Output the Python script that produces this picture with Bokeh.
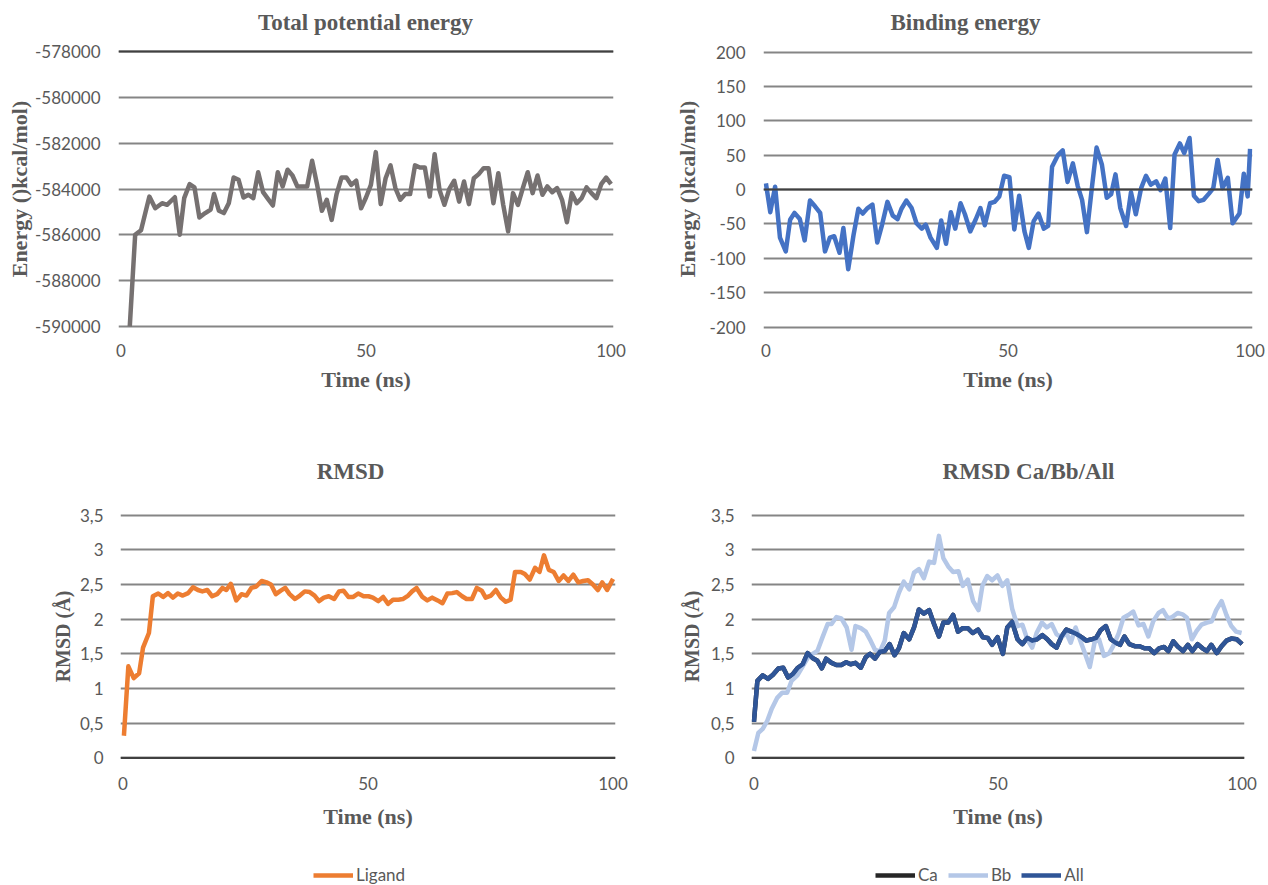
from bokeh.plotting import figure
from bokeh.layouts import row, column
from bokeh.models import Range1d, FixedTicker, Span, Legend, LegendItem, Label
from bokeh.embed import file_html
from bokeh.resources import INLINE

# ---------------- data ----------------
x_ticks = [0, 50, 100]
x_tick_labels = ["0", "50", "100"]

energy_ticks = [-590000, -588000, -586000, -584000, -582000, -580000, -578000]
energy_tick_labels = ["-590000", "-588000", "-586000", "-584000", "-582000", "-580000", "-578000"]

binding_ticks = [-200, -150, -100, -50, 0, 50, 100, 150, 200]
binding_tick_labels = ["-200", "-150", "-100", "-50", "0", "50", "100", "150", "200"]

rmsd_ticks = [0, 0.5, 1, 1.5, 2, 2.5, 3, 3.5]
rmsd_tick_labels = ["0", "0,5", "1", "1,5", "2", "2,5", "3", "3,5"]

energy_time = [1.8, 2.9, 4.1, 5.8, 7, 8.4, 9.4, 11, 12, 12.9, 14, 15, 16, 17.2, 18.3, 19,
               20, 21, 22, 23, 24, 25, 26, 27, 28, 29, 30, 31, 32, 33, 34, 35, 36, 37, 38, 39,
               40, 41, 42, 43, 44, 45, 46, 47, 48, 49, 50, 51, 52, 53, 54, 55, 56, 57, 58, 59,
               60, 61, 62, 63, 64, 65, 66, 67, 68, 69, 70, 71, 72, 73, 74, 75, 76, 77, 78, 79,
               80, 81, 82, 83, 84, 85, 86, 87, 88, 89, 90, 91, 92, 93, 94, 95, 96, 97, 98, 99, 100]
energy_total = [-590000, -586000, -585800, -584330, -584840, -584620, -584690, -584360, -586000,
                -584400, -583790, -583930, -585240, -585050, -584900, -584220,
                -584950, -585050, -584620, -583500, -583600, -584370, -584250, -584400, -583270,
                -584140, -584430, -584720, -583270, -583890, -583160, -583410, -583890, -583890,
                -583890, -582770, -583790, -584950, -584470, -585350, -584220, -583500, -583500,
                -583820, -583640, -584840, -584370, -583820, -582390, -584660, -583530, -582970,
                -583960, -584470, -584220, -584220, -582970, -583060, -583060, -584330, -582480,
                -584040, -584690, -584000, -583640, -584550, -583670, -584660, -583530, -583350,
                -583090, -583090, -584620, -583310, -584690, -585850, -584180, -584690, -583960,
                -583270, -584180, -583410, -584250, -583890, -584140, -583960, -584470, -585450,
                -584180, -584620, -584400, -583930, -584180, -584400, -583790, -583500, -583790]

binding_time = [0, 0.9, 1.9, 2.9, 4.1, 5, 5.9, 7, 8, 9.1, 10.1, 11.2, 12.2, 13.2, 14.1, 15.2, 16,
                17, 18.1, 19.1, 20, 21, 22, 23, 24, 25.1, 26.2, 27.2, 28, 29, 30.1, 31.1, 32.2,
                33, 34, 35.3, 36.2, 37.2, 38.2, 39.1, 40.2, 41.1, 42.2, 43.3, 44.3, 45.2, 46.3,
                47.2, 48.2, 49.2, 50.3, 51.3, 52.3, 53.4, 54.3, 55.3, 56.3, 57.4, 58.3, 59.1,
                60.3, 61.3, 62.3, 63.4, 64.4, 65.3, 66.3, 67.3, 68.3, 69.4, 70.4, 71.3, 72.2,
                73.2, 74.4, 75.4, 76.4, 77.5, 78.5, 79.5, 80.6, 81.5, 82.5, 83.5, 84.4, 85.5,
                86.4, 87.5, 88.4, 89.4, 90.4, 91.5, 92.4, 93.3, 94.3, 95.4, 96.4, 97.8, 98.7,
                99.5, 100]
binding_energy = [9, -33, 4, -70, -90, -44, -34, -43, -74, -16, -24, -34, -90, -70, -68, -92, -56,
                  -116, -66, -28, -35, -27, -22, -77, -51, -18, -38, -43, -28, -16, -27, -49, -57,
                  -51, -70, -85, -45, -79, -33, -57, -20, -36, -61, -44, -27, -52, -20,
                  -18, -10, 20, 18, -58, -9, -61, -85, -46, -35, -57, -53, 33,
                  50, 57, 11, 38, 5, -15, -62, 1, 61, 36, -12, -7, 22,
                  -27, -53, -4, -36, 2, 20, 7, 12, -1, 16, -56, 51, 67,
                  53, 75, -9, -17, -15, -6, 2, 43, 2, 17, -49, -35, 23,
                  -10, 59]

ligand_time = [0.2, 1.1, 2.2, 3.3, 4.1, 5.3, 6.1, 7.2, 8.2, 9.2, 10.2, 11.2, 12.2, 13.3, 14.3,
               15.3, 16.2, 17.2, 18.2, 19.2, 20.3, 21.1, 22, 23.1, 24.2, 25.2, 26.2, 27.2, 28.3,
               29.3, 30.2, 31.2, 32.2, 33.1, 34, 35.1, 36.1, 37.1, 38.1, 39.1, 40, 41, 42, 43.1,
               44.1, 45, 46, 47, 48, 49.1, 50.1, 51, 52.1, 53.1, 54.1, 55.1, 56.2, 57.1, 58.2,
               59, 59.9, 61.1, 62.1, 63.1, 64.2, 65.2, 66.2, 67.2, 68.1, 69.2, 70.1, 71.2, 72.2,
               73.2, 74, 75.1, 76.1, 77.1, 78.1, 79.1, 80, 81.2, 82, 83, 84.1, 85, 85.9, 86.9,
               87.9, 88.9, 89.9, 90.9, 91.9, 92.9, 93.9, 94.9, 95.9, 96.9, 97.8, 98.8, 100]
ligand_rmsd = [0.32, 1.32, 1.15, 1.22, 1.59, 1.80, 2.33, 2.37, 2.32, 2.375, 2.31, 2.37, 2.34,
               2.375, 2.46, 2.42, 2.40, 2.42, 2.33, 2.36, 2.45, 2.42, 2.51, 2.27, 2.36, 2.34,
               2.45, 2.47, 2.55, 2.53, 2.50, 2.36, 2.41, 2.45, 2.36, 2.29, 2.34, 2.40, 2.39,
               2.34, 2.26, 2.31, 2.33, 2.29, 2.40, 2.41, 2.32, 2.32, 2.37, 2.33, 2.33, 2.31,
               2.26, 2.32, 2.22, 2.28, 2.28, 2.29, 2.34, 2.40, 2.45, 2.32, 2.27, 2.31, 2.27,
               2.23, 2.37, 2.375, 2.39, 2.33, 2.29, 2.29, 2.45, 2.41, 2.31, 2.34, 2.42, 2.31,
               2.25, 2.28, 2.68, 2.68, 2.65, 2.57, 2.74, 2.68, 2.92, 2.71, 2.68, 2.55, 2.63,
               2.55, 2.64, 2.53, 2.55, 2.56, 2.50, 2.42, 2.53, 2.42, 2.58]

all_time = [0, 0.7, 1.8, 2.9, 3.9, 5, 6, 7, 8, 9, 10, 11, 12, 13, 13.9, 14.8, 15.9, 16.9, 17.9,
            18.9, 19.8, 20.8, 21.9, 22.9, 23.8, 24.8, 25.8, 26.8, 27.8, 28.8, 29.7, 30.7, 31.8,
            32.8, 33.8, 34.8, 35.9, 36.9, 37.9, 38.8, 39.8, 40.8, 41.8, 42.8, 43.8, 44.8, 45.9,
            46.9, 47.9, 48.8, 49.9, 51, 51.9, 52.9, 54, 55, 56, 57, 58, 59.1, 60.1, 61, 62, 63,
            64, 65, 66, 67.1, 68.1, 69.2, 70.1, 71, 72.1, 73.1, 74.1, 75, 75.9, 76.9, 78, 79, 80,
            81, 82, 83, 84, 84.9, 85.9, 86.9, 87.9, 88.9, 89.8, 90.9, 91.9, 92.8, 93.7, 94.8,
            95.8, 96.8, 97.8, 98.9, 100]
all_rmsd = [0.52, 1.11, 1.19, 1.14, 1.20, 1.29, 1.30, 1.16, 1.21, 1.30, 1.35, 1.51, 1.44, 1.40,
            1.29, 1.43, 1.37, 1.34, 1.34, 1.38, 1.35, 1.37, 1.30, 1.45, 1.50, 1.43, 1.53, 1.54,
            1.64, 1.48, 1.58, 1.80, 1.71, 1.88, 2.14, 2.08, 2.13, 1.93, 1.75, 1.95, 1.95, 2.06,
            1.82, 1.87, 1.87, 1.80, 1.85, 1.74, 1.73, 1.63, 1.74, 1.50, 1.88, 1.96, 1.71, 1.64,
            1.73, 1.69, 1.71, 1.77, 1.71, 1.64, 1.59, 1.75, 1.85, 1.82, 1.79, 1.74, 1.69, 1.71,
            1.73, 1.84, 1.90, 1.71, 1.66, 1.63, 1.75, 1.64, 1.61, 1.61, 1.58, 1.58, 1.51, 1.58,
            1.60, 1.54, 1.68, 1.60, 1.54, 1.63, 1.54, 1.64, 1.58, 1.54, 1.63, 1.51, 1.61, 1.69,
            1.72, 1.71, 1.64]
ca_time = all_time
ca_rmsd = all_rmsd

bb_time = [0, 0.9, 1.8, 2.7, 3.6, 4.8, 5.8, 6.8, 7.7, 8.9, 9.9, 11, 12, 13, 14, 15.1, 15.9, 16.9,
           17.9, 19, 20, 20.8, 21.9, 22.9, 23.9, 24.8, 25.8, 26.8, 27.7, 28.7, 29.7, 30.7, 31.8,
           32.8, 33.8, 34.8, 35.9, 36.9, 37.9, 38.8, 39.8, 40.8, 41.9, 42.8, 43.8, 44.9, 46,
           46.8, 47.8, 48.8, 49.9, 50.9, 51.9, 52.9, 54, 55, 56, 57, 57.9, 59, 60, 61, 62, 63,
           64, 64.9, 65.9, 66.9, 67.8, 68.8, 69.8, 70.7, 71.7, 72.8, 73.6, 74.7, 75.7, 76.7,
           77.7, 78.8, 79.8, 80.8, 81.8, 82.9, 83.8, 84.8, 85.7, 86.8, 87.8, 88.7, 89.7, 90.7,
           91.7, 92.8, 93.8, 94.7, 95.8, 96.8, 97.8, 98.8, 99.9]
bb_rmsd = [0.10, 0.36, 0.42, 0.53, 0.70, 0.87, 0.94, 0.94, 1.11, 1.19, 1.31, 1.44, 1.50, 1.54,
           1.73, 1.93, 1.93, 2.03, 2.01, 1.88, 1.56, 1.90, 1.87, 1.82, 1.69, 1.56, 1.53, 1.69,
           2.09, 2.17, 2.38, 2.54, 2.43, 2.67, 2.72, 2.59, 2.83, 2.81, 3.20, 2.88, 2.76, 2.68,
           2.69, 2.48, 2.57, 2.26, 2.13, 2.48, 2.62, 2.56, 2.63, 2.48, 2.56, 2.15, 1.90, 1.92,
           1.71, 1.59, 1.80, 1.95, 1.88, 1.93, 1.78, 1.74, 1.80, 1.66, 1.88, 1.68, 1.51, 1.31,
           1.67, 1.71, 1.47, 1.51, 1.61, 1.79, 2.02, 2.06, 2.11, 1.91, 1.93, 1.75, 1.97, 2.09,
           2.13, 2.01, 2.03, 2.09, 2.07, 2.02, 1.71, 1.83, 1.92, 1.95, 1.97, 2.13, 2.26, 2.06,
           1.90, 1.82, 1.80]

# ---------------- style ----------------
TEXT = "#595959"
GRID = "#858585"
AXIS = "#404040"
SERIF = "Liberation Serif"
SANS = "Lato"
LW = 4.5
COL_W = 634


def strip(h):
    s = figure(width=COL_W, height=h, x_range=Range1d(0, COL_W), y_range=Range1d(h, 0),
               x_axis_location=None, y_axis_location=None, toolbar_location=None,
               output_backend="svg", min_border=0)
    s.outline_line_color = None
    s.grid.visible = False
    return s


def title_strip(h, entries):
    s = strip(h)
    for text, x, y in entries:
        s.add_layout(Label(x=x, y=y, text=text, text_align="center", text_baseline="middle",
                           text_font=SERIF, text_font_style="bold", text_font_size="23px",
                           text_color=TEXT))
    return s


def make_fig(h, xr, yr, borders, yticks, ylabels, ylabel, ylabel_size,
             xs1=12, xs2=7, ys1=18, ys2=4, axis_at=None):
    bl, br, bt, bb = borders
    p = figure(width=COL_W, height=h, x_range=Range1d(*xr), y_range=Range1d(*yr),
               output_backend="svg", toolbar_location=None,
               min_border_left=bl, min_border_right=br, min_border_top=bt, min_border_bottom=bb)
    p.outline_line_color = None
    p.xgrid.visible = False
    p.ygrid.ticker = FixedTicker(ticks=yticks)
    p.ygrid.grid_line_color = GRID
    p.ygrid.grid_line_width = 2
    for ax in (p.xaxis[0], p.yaxis[0]):
        ax.axis_line_color = None
        ax.major_tick_line_color = None
        ax.minor_tick_line_color = None
        ax.major_tick_out = 0
        ax.major_tick_in = 0
        ax.major_label_text_font = SANS
        ax.major_label_text_font_size = "17px"
        ax.major_label_text_color = TEXT
        ax.axis_label_text_font = SERIF
        ax.axis_label_text_font_style = "bold"
        ax.axis_label_text_color = TEXT
    p.xaxis.ticker = FixedTicker(ticks=x_ticks)
    p.xaxis.major_label_overrides = dict(zip(x_ticks, x_tick_labels))
    p.yaxis.ticker = FixedTicker(ticks=yticks)
    p.yaxis.major_label_overrides = dict(zip(yticks, ylabels))
    p.xaxis.axis_label = "Time (ns)"
    p.xaxis.axis_label_text_font_size = "22px"
    p.yaxis.axis_label = ylabel
    p.yaxis.axis_label_text_font_size = ylabel_size
    p.xaxis.major_label_standoff = xs1
    p.xaxis.axis_label_standoff = xs2
    p.yaxis.major_label_standoff = ys1
    p.yaxis.axis_label_standoff = ys2
    if axis_at is not None:
        p.add_layout(Span(location=axis_at, dimension="width", line_color=AXIS, line_width=2))
    return p


def legend_strip(entries, x):
    # legend-only strip; the proxy renderers carry the series data but stay hidden
    s = strip(35)
    items = []
    for label, color, xs, ys in entries:
        r = s.line(xs, ys, line_color=color, line_width=LW, visible=False)
        items.append(LegendItem(label=label, renderers=[r]))
    s.add_layout(Legend(items=items, location=(x, 0), orientation="horizontal",
                        label_text_font=SANS, label_text_font_size="17px", label_text_color=TEXT,
                        glyph_width=40, glyph_height=20, label_standoff=3,
                        padding=0, margin=0, spacing=10, border_line_color=None,
                        background_fill_alpha=0, inactive_fill_alpha=0))
    return s


# titles (top row)
t_top_l = title_strip(40, [("Total potential energy", 365, 22)])
t_top_r = title_strip(40, [("Binding energy", 331, 22)])

# top-left: total potential energy
f1 = make_fig(400, (-0.5, 100.5), (-590262, -577738), (118, 21, 5, 108),
              energy_ticks, energy_tick_labels, "Energy ()kcal/mol)", "22px",
              xs1=11, xs2=7, ys1=18, ys2=0, axis_at=-578000)
f1.line(energy_time, energy_total, line_color="#767171", line_width=LW, line_join="round")

# top-right: binding energy
f2 = make_fig(400, (-0.5, 100.5), (-208, 209.5), (129, 16, 5, 108),
              binding_ticks, binding_tick_labels, "Energy ()kcal/mol)", "22px",
              xs1=11, xs2=7, ys1=18, ys2=7, axis_at=0)
f2.line(binding_time, binding_energy, line_color="#4472C4", line_width=LW, line_join="round")

# titles (bottom row)
t_bot_l = title_strip(60, [("RMSD", 350, 31)])
t_bot_r = title_strip(60, [("RMSD Ca/Bb/All", 394, 31)])

# bottom-left: ligand RMSD
f3 = make_fig(350, (-0.5, 100.5), (-0.08, 3.58), (120, 19, 9, 87),
              rmsd_ticks, rmsd_tick_labels, "RMSD (Å)", "20px",
              xs1=13, xs2=11, ys1=17, ys2=3, axis_at=0)
f3.line(ligand_time, ligand_rmsd, line_color="#ED7D31", line_width=LW, line_join="round")

# bottom-right: Ca / Bb / All
f4 = make_fig(350, (-0.5, 100.5), (-0.08, 3.58), (117, 24, 9, 87),
              rmsd_ticks, rmsd_tick_labels, "RMSD (Å)", "20px",
              xs1=13, xs2=11, ys1=17, ys2=5, axis_at=0)
f4.line(ca_time, ca_rmsd, line_color="#262626", line_width=LW, line_join="round")
f4.line(bb_time, bb_rmsd, line_color="#B4C7E7", line_width=LW, line_join="round")
f4.line(all_time, all_rmsd, line_color="#2F5597", line_width=LW, line_join="round")

# legends
l_left = legend_strip([("Ligand", "#ED7D31", ligand_time, ligand_rmsd)], 313)
l_right = legend_strip([("Ca", "#262626", ca_time, ca_rmsd),
                        ("Bb", "#B4C7E7", bb_time, bb_rmsd),
                        ("All", "#2F5597", all_time, all_rmsd)], 241)

layout = column(row(t_top_l, t_top_r), row(f1, f2), row(t_bot_l, t_bot_r),
                row(f3, f4), row(l_left, l_right))
open("out.html", "w").write(file_html(layout, INLINE))
